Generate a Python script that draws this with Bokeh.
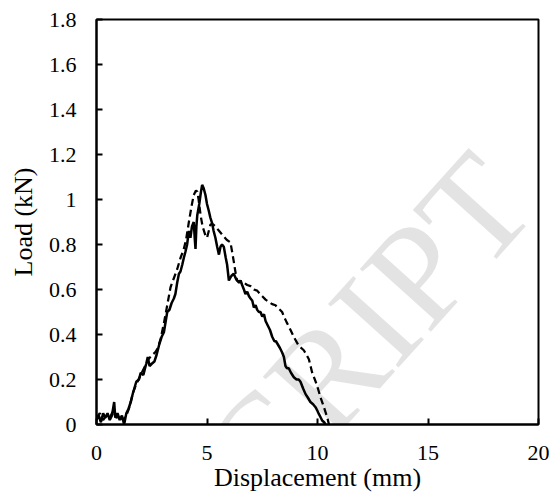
from bokeh.plotting import figure
from bokeh.models import Range1d, FixedTicker, Label
from bokeh.embed import file_html
from bokeh.resources import INLINE

# ---------------- data ----------------
solid_x = [0.0, 0.1, 0.2, 0.3, 0.4, 0.5, 0.6, 0.7, 0.8, 0.85, 0.95, 1.05, 1.15, 1.25,
           1.35, 1.45, 1.55, 1.65, 1.8, 1.92, 2.0, 2.12, 2.25, 2.32, 2.4, 2.5, 2.62,
           2.72, 2.85, 2.95, 3.05, 3.15, 3.2, 3.3, 3.4, 3.5, 3.57, 3.65, 3.73, 3.8,
           3.88, 3.95, 4.03, 4.1, 4.18, 4.25, 4.32, 4.40, 4.45, 4.48, 4.52, 4.56,
           4.65, 4.72, 4.78, 4.85, 4.93, 5.0, 5.08, 5.15, 5.23, 5.3, 5.38, 5.46,
           5.54, 5.61, 5.68, 5.76, 5.85, 5.91, 5.99, 6.1, 6.21, 6.3, 6.36, 6.45,
           6.52, 6.59, 6.67, 6.74, 6.82, 6.9, 6.97, 7.05, 7.12, 7.2, 7.27, 7.35,
           7.42, 7.5, 7.58, 7.65, 7.75, 7.85, 7.95, 8.05, 8.12, 8.18, 8.3, 8.4,
           8.48, 8.55, 8.62, 8.7, 8.8, 8.93, 9.05, 9.15, 9.23, 9.35, 9.46, 9.56,
           9.68, 9.8, 9.91, 10.0, 10.06, 10.15, 10.21, 10.3, 10.36]
solid_y = [0.02, 0.04, 0.01, 0.05, 0.03, 0.05, 0.02, 0.04, 0.10, 0.03, 0.05, 0.02, 0.04, 0.00,
           0.05, 0.07, 0.10, 0.14, 0.19, 0.20, 0.23, 0.22, 0.27, 0.30, 0.26, 0.27, 0.28,
           0.31, 0.36, 0.39, 0.41, 0.47, 0.50, 0.51, 0.54, 0.56, 0.58, 0.63, 0.67, 0.68,
           0.71, 0.74, 0.77, 0.80, 0.86, 0.83, 0.88, 0.90, 0.82, 0.78, 0.88, 0.93,
           0.98, 1.03, 1.065, 1.05, 1.02, 0.98, 0.95, 0.92, 0.895, 0.86, 0.83, 0.79,
           0.755, 0.79, 0.80, 0.79, 0.74, 0.71, 0.64, 0.66, 0.67, 0.65, 0.64, 0.63,
           0.64, 0.62, 0.60, 0.58, 0.59, 0.57, 0.56, 0.55, 0.52, 0.53, 0.51, 0.50,
           0.50, 0.48, 0.49, 0.46, 0.44, 0.42, 0.39, 0.37, 0.37, 0.36, 0.34, 0.32,
           0.30, 0.26, 0.25, 0.25, 0.23, 0.21, 0.20, 0.20, 0.19, 0.16, 0.135, 0.12,
           0.10, 0.09, 0.077, 0.06, 0.047, 0.03, 0.018, 0.01, 0.0]

dashed_x = [0.0, 0.15, 0.3, 0.45, 0.6, 0.75, 0.9, 1.05, 1.2, 1.35, 1.5, 1.65, 1.8, 2.0,
            2.2, 2.35, 2.52, 2.65, 2.78, 2.9, 3.05, 3.2, 3.35, 3.5, 3.65, 3.8, 3.95,
            4.05, 4.18, 4.3, 4.4, 4.5, 4.56, 4.62, 4.71, 4.8, 4.93, 5.0, 5.08, 5.16,
            5.27, 5.38, 5.55, 5.76, 5.9, 6.06, 6.15, 6.21, 6.3, 6.36, 6.5, 6.67, 6.82,
            6.97, 7.12, 7.27, 7.4, 7.5, 7.65, 7.8, 7.95, 8.1, 8.18, 8.3, 8.4, 8.48,
            8.6, 8.78, 8.95, 9.15, 9.38, 9.5, 9.61, 9.76, 9.88, 9.99, 10.14, 10.29,
            10.44, 10.52]
dashed_y = [0.03, 0.05, 0.02, 0.04, 0.03, 0.06, 0.03, 0.04, 0.02, 0.04, 0.08, 0.14, 0.18, 0.22,
            0.26, 0.29, 0.31, 0.32, 0.34, 0.38, 0.45, 0.53, 0.61, 0.65, 0.69, 0.74, 0.78,
            0.82, 0.90, 0.97, 1.02, 1.04, 1.035, 1.00, 0.93, 0.88, 0.84, 0.83, 0.86, 0.89,
            0.89, 0.88, 0.86, 0.835, 0.82, 0.81, 0.76, 0.725, 0.67, 0.64, 0.635, 0.63, 0.62,
            0.615, 0.60, 0.595, 0.58, 0.57, 0.555, 0.545, 0.535, 0.53, 0.52, 0.51, 0.50, 0.48,
            0.455, 0.42, 0.385, 0.35, 0.33, 0.31, 0.29, 0.23, 0.20, 0.17, 0.12, 0.077,
            0.032, 0.0]

x_ticks = [0, 5, 10, 15, 20]
x_tick_labels = ["0", "5", "10", "15", "20"]
y_ticks = [0, 0.2, 0.4, 0.6, 0.8, 1.0, 1.2, 1.4, 1.6, 1.8]
y_tick_labels = ["0", "0.2", "0.4", "0.6", "0.8", "1", "1.2", "1.4", "1.6", "1.8"]

x_title = "Displacement (mm)"
y_title = "Load (kN)"
watermark = "ACCEPTED MANUSCRIPT"

# ---------------- figure ----------------
FONT = "Liberation Serif"

p = figure(width=558, height=500, output_backend="svg", toolbar_location=None,
           x_range=Range1d(0, 20), y_range=Range1d(0, 1.8),
           min_border_left=96, min_border_right=20, min_border_top=19,
           min_border_bottom=76)
p.background_fill_color = "white"
p.border_fill_color = "white"
p.outline_line_color = "black"
p.outline_line_width = 2
p.xgrid.visible = False
p.ygrid.visible = False

p.line(solid_x, solid_y, line_color="black", line_width=2.5)
p.line(dashed_x, dashed_y, line_color="black", line_width=2.25, line_dash="7 4")

# faint watermark: translucent black so black marks stay black beneath it
wm = Label(x=18.45, y=1.10, text=watermark, text_font=FONT, text_font_size="145px",
           text_color="black", text_alpha=0.11, text_align="right",
           text_baseline="alphabetic", angle=48, angle_units="deg")
p.add_layout(wm)

for ax, ticks, labels in ((p.xaxis[0], x_ticks, x_tick_labels),
                          (p.yaxis[0], y_ticks, y_tick_labels)):
    ax.ticker = FixedTicker(ticks=ticks)
    ax.major_label_overrides = {t: l for t, l in zip(ticks, labels)}
    ax.minor_tick_line_color = None
    ax.major_tick_in = 6
    ax.major_tick_out = 0
    ax.major_tick_line_width = 2
    ax.axis_line_width = 2
    ax.axis_line_color = "black"
    ax.major_label_text_font = FONT
    ax.major_label_text_font_size = "22px"
    ax.major_label_text_color = "black"
    ax.axis_label_text_font = FONT
    ax.axis_label_text_font_size = "26px"
    ax.axis_label_text_font_style = "normal"
    ax.axis_label_text_color = "black"

p.xaxis.axis_label = x_title
p.yaxis.axis_label = y_title
p.xaxis.major_label_standoff = 21
p.yaxis.major_label_standoff = 20
p.xaxis.axis_label_standoff = 0
p.yaxis.axis_label_standoff = 8

open("out.html", "w").write(file_html(p, INLINE))
